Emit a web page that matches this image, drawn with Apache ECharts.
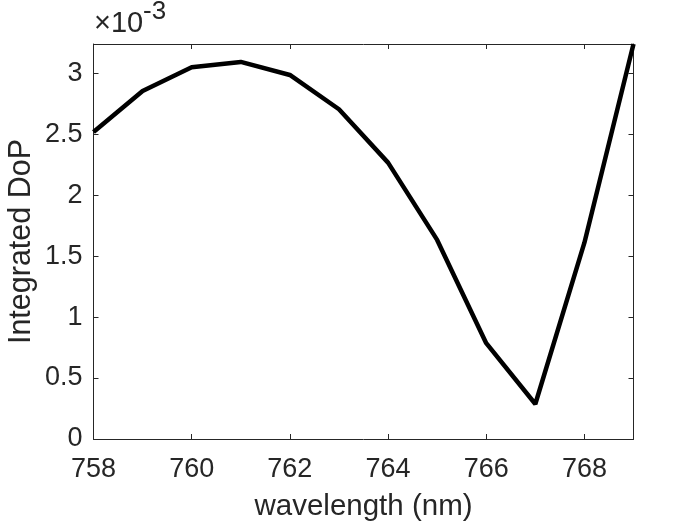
<!DOCTYPE html>
<html>
<head>
<meta charset="utf-8">
<script src="https://cdn.jsdelivr.net/npm/echarts@6/dist/echarts.min.js"></script>
<style>html,body{margin:0;padding:0;background:#fff;}#c{width:700px;height:525px;}</style>
</head>
<body>
<div id="c"></div>
<script>
const wavelengths = [758, 759, 760, 761, 762, 763, 764, 765, 766, 767, 768, 769];
const dopValues = [0.002518, 0.002855, 0.003050, 0.003093, 0.002986, 0.002705, 0.002267, 0.001633, 0.000786, 0.000287, 0.001610, 0.003240];
const xLabelName = 'wavelength (nm)';
const yLabelName = 'Integrated DoP';

const chart = echarts.init(document.getElementById('c'));
const axisColor = '#262626';
const font = 'Liberation Sans, Arial, Helvetica, sans-serif';
const points = wavelengths.map((w, i) => [w, dopValues[i]]);

function tick() { return {show: true, inside: false, length: -5, lineStyle: {color: axisColor, width: 1}}; }
function line() { return {show: true, onZero: false, lineStyle: {color: axisColor, width: 1}}; }

chart.setOption({
  animation: false,
  backgroundColor: '#fff',
  grid: {left: 93.5, right: 66.5, top: 44, bottom: 86, containLabel: false, outerBoundsMode: 'none'},
  xAxis: [
    {
      type: 'value', min: 758, max: 769, interval: 2, position: 'bottom',
      axisLine: line(), axisTick: tick(), splitLine: {show: false},
      name: xLabelName, nameLocation: 'middle', nameGap: 53,
      nameTextStyle: {color: axisColor, fontSize: 29.5, fontFamily: font},
      axisLabel: {color: axisColor, fontSize: 27, fontFamily: font, margin: 17, showMaxLabel: false}
    },
    {
      type: 'value', min: 758, max: 769, interval: 2, position: 'top',
      axisLine: line(), axisTick: tick(), splitLine: {show: false}, axisLabel: {show: false}
    }
  ],
  yAxis: [
    {
      type: 'value', min: 0, max: 0.00324, interval: 0.0005, position: 'left',
      axisLine: line(), axisTick: tick(), splitLine: {show: false},
      name: yLabelName, nameLocation: 'middle', nameGap: 56, nameRotate: 90, nameMoveOverlap: false,
      nameTextStyle: {color: axisColor, fontSize: 30.5, fontFamily: font},
      axisLabel: {color: axisColor, fontSize: 27, fontFamily: font, margin: 11, showMaxLabel: false,
        formatter: v => String(parseFloat((v * 1000).toFixed(2)))}
    },
    {
      type: 'value', min: 0, max: 0.00324, interval: 0.0005, position: 'right',
      axisLine: line(), axisTick: tick(), splitLine: {show: false}, axisLabel: {show: false}
    }
  ],
  graphic: [
    {type: 'text', x: 94, y: 24, style: {text: '×10', fontSize: 29, fontFamily: font, fill: axisColor, verticalAlign: 'middle', align: 'left'}},
    {type: 'text', x: 143, y: 12, style: {text: '-3', fontSize: 26, fontFamily: font, fill: axisColor, verticalAlign: 'middle', align: 'left'}}
  ],
  series: [{
    type: 'line', data: points, xAxisIndex: 0, yAxisIndex: 0,
    showSymbol: false, symbol: 'none',
    lineStyle: {color: '#000', width: 4.5},
    clip: false
  }]
});
</script>
</body>
</html>
